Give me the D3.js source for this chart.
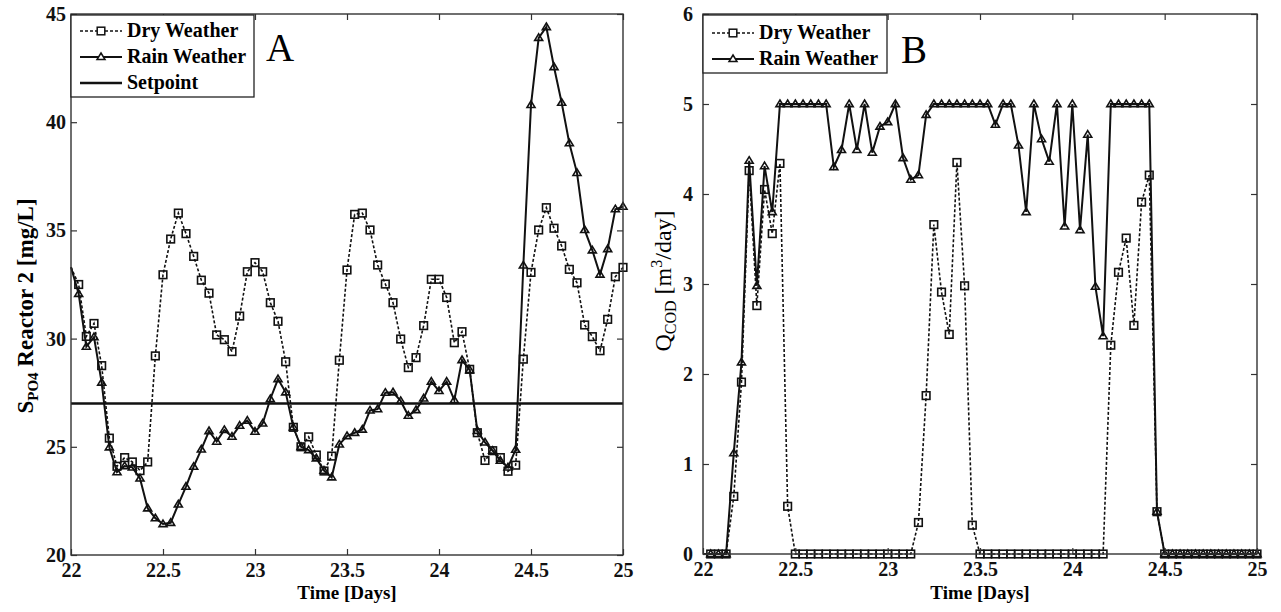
<html>
  <head>
    <meta charset="utf-8" />
    <script src="https://d3js.org/d3.v7.min.js"></script>
    <style>
      body { margin: 0; background: #fff; }
      text { font-family: "Liberation Serif", "Times New Roman", serif; }
    </style>
  </head>
  <body>
    <div id="figure"></div>
    <script>
      // hourly samples, day 22 -> day 25
      const timeDays = d3.range(73).map(h => 22 + h / 24);
      const xTicks = [22, 22.5, 23, 23.5, 24, 24.5, 25];
      const yTicksA = [20, 25, 30, 35, 40, 45];
      const yTicksB = [0, 1, 2, 3, 4, 5, 6];

      // panel A : S_PO4 in reactor 2 [mg/L]
      const dryPO4 = [33.3, 32.5, 30.1, 30.7, 28.75, 25.4, 24.1, 24.5, 24.3, 23.9, 24.3, 29.2,
        32.95, 34.6, 35.8, 34.85, 33.8, 32.7, 32.1, 30.17, 29.95, 29.4, 31.04, 33.09,
        33.51, 33.09, 31.66, 30.8, 28.93, 25.9, 25.0, 25.46, 24.62, 23.88, 24.57, 29.0,
        33.17, 35.74, 35.8, 35.02, 33.4, 32.52, 31.66, 29.98, 28.66, 29.12, 30.6, 32.74,
        32.74, 31.9, 29.81, 30.32, 28.58, 25.65, 24.37, 24.82, 24.5, 23.87, 24.15, 29.05,
        33.06, 35.02, 36.05, 35.1, 34.28, 33.2, 32.58, 30.63, 30.09, 29.44, 30.89, 32.86, 33.29];
      const rainPO4 = [33.3, 32.07, 29.63, 30.07, 27.97, 24.98, 23.83, 24.11, 24.05, 23.54, 22.16, 21.7,
        21.43, 21.49, 22.34, 23.16, 24.08, 24.88, 25.73, 25.24, 25.78, 25.47, 25.98, 26.21,
        25.7, 26.08, 27.21, 28.13, 27.52, 25.9, 25.0, 24.85, 24.47, 23.9, 23.59, 25.11,
        25.5, 25.65, 25.8, 26.68, 26.74, 27.5, 27.52, 27.12, 26.44, 26.7, 27.24, 28.01,
        27.58, 28.01, 27.16, 29.01, 28.55, 25.74, 25.2, 24.82, 24.36, 24.05, 24.87, 33.38,
        40.8, 43.9, 44.4, 42.55, 40.9, 39.03, 37.66, 35.02, 34.08, 32.96, 34.14, 35.98, 36.1];
      const setpointPO4 = 27;

      // panel B : Q_COD [m3/day]
      const dryQCOD = [0, 0, 0, 0, 0.64, 1.91, 4.26, 2.76, 4.05, 3.56, 4.34, 0.53,
        0, 0, 0, 0, 0, 0, 0, 0, 0, 0, 0, 0,
        0, 0, 0, 0, 0.35, 1.76, 3.66, 2.91, 2.44, 4.35, 2.98, 0.32,
        0, 0, 0, 0, 0, 0, 0, 0, 0, 0, 0, 0,
        0, 0, 0, 0, 0, 2.32, 3.13, 3.51, 2.54, 3.91, 4.21, 0.47,
        0, 0, 0, 0, 0, 0, 0, 0, 0, 0, 0, 0, 0];
      const rainQCOD = [0, 0, 0, 0, 1.12, 2.13, 4.37, 2.98, 4.31, 3.8, 5, 5,
        5, 5, 5, 5, 5, 4.3, 4.49, 5, 4.49, 5, 4.46, 4.75,
        4.8, 5, 4.4, 4.16, 4.21, 4.88, 5, 5, 5, 5, 5, 5,
        5, 5, 4.77, 5, 5, 4.54, 3.8, 5, 4.61, 4.36, 5, 3.64,
        5, 3.6, 4.66, 2.97, 2.42, 5, 5, 5, 5, 5, 5, 0.47,
        0, 0, 0, 0, 0, 0, 0, 0, 0, 0, 0, 0, 0];

      const svg = d3.select("#figure")
        .append("svg")
        .attr("width", 1281)
        .attr("height", 612);

      const tickFmt = d3.format("~g");

      function pairs(values) {
        return values.map((v, i) => ({ t: timeDays[i], v: v }));
      }

      function squareMarks(g, pts, x, y) {
        g.selectAll(null).data(pts.filter(d => d.t > 22)).enter()
          .append("rect")
          .attr("x", d => x(d.t) - 3.8)
          .attr("y", d => y(d.v) - 3.8)
          .attr("width", 7.6)
          .attr("height", 7.6)
          .attr("fill", "none")
          .attr("stroke", "#111")
          .attr("stroke-width", 1.6);
      }

      function triangleMarks(g, pts, x, y) {
        g.selectAll(null).data(pts.filter(d => d.t > 22)).enter()
          .append("path")
          .attr("d", d => {
            let cx = x(d.t), cy = y(d.v);
            return "M" + cx + "," + (cy - 4) + "L" + (cx + 4) + "," + (cy + 2.6) + "L" + (cx - 4) + "," + (cy + 2.6) + "Z";
          })
          .attr("fill", "none")
          .attr("stroke", "#111")
          .attr("stroke-width", 1.6);
      }

      function drawPanel(p) {
        let x = d3.scaleLinear().domain([22, 25]).range([p.left, p.right]);
        let y = d3.scaleLinear().domain(p.yDomain).range([p.bottom, p.top]);
        let g = svg.append("g");

        let line = d3.line().x(d => x(d.t)).y(d => y(d.v));

        // setpoint (panel A only)
        if (p.setpoint !== undefined) {
          g.append("line")
            .attr("x1", p.left).attr("x2", p.right)
            .attr("y1", y(p.setpoint)).attr("y2", y(p.setpoint))
            .attr("stroke", "#111").attr("stroke-width", 2.4);
        }

        let rain = pairs(p.rain), dry = pairs(p.dry);
        g.append("path").attr("d", line(rain))
          .attr("fill", "none").attr("stroke", "#111").attr("stroke-width", 2);
        triangleMarks(g, rain, x, y);
        g.append("path").attr("d", line(dry))
          .attr("fill", "none").attr("stroke", "#111").attr("stroke-width", 1.6)
          .attr("stroke-dasharray", "3,2");
        squareMarks(g, dry, x, y);

        // axes, ticks pointing inward on all four sides
        let fontAxis = g2 => g2.attr("font-family", "Liberation Serif, serif")
          .attr("font-size", 20).attr("font-weight", "bold");
        let ax = [
          g.append("g").attr("transform", "translate(0," + p.bottom + ")")
            .call(d3.axisBottom(x).tickValues(xTicks).tickFormat(tickFmt).tickSizeInner(-6).tickSizeOuter(0).tickPadding(8)),
          g.append("g").attr("transform", "translate(0," + p.top + ")")
            .call(d3.axisTop(x).tickValues(xTicks).tickSizeInner(-6).tickSizeOuter(0).tickFormat("")),
          g.append("g").attr("transform", "translate(" + p.left + ",0)")
            .call(d3.axisLeft(y).tickValues(p.yTicks).tickFormat(tickFmt).tickSizeInner(-6).tickSizeOuter(0).tickPadding(p.padY)),
          g.append("g").attr("transform", "translate(" + p.right + ",0)")
            .call(d3.axisRight(y).tickValues(p.yTicks).tickSizeInner(-6).tickSizeOuter(0).tickFormat(""))
        ];
        ax.forEach(a => {
          fontAxis(a);
          a.select(".domain").remove();
          a.selectAll(".tick line").attr("stroke", "#333").attr("stroke-width", 1.2);
          a.selectAll(".tick text").attr("fill", "#111");
        });
        g.append("rect")
          .attr("x", p.left).attr("y", p.top)
          .attr("width", p.right - p.left).attr("height", p.bottom - p.top)
          .attr("fill", "none").attr("stroke", "#333").attr("stroke-width", 1.4);

        g.append("text")
          .attr("x", (p.left + p.right) / 2).attr("y", 599)
          .attr("text-anchor", "middle")
          .attr("font-size", 19).attr("font-weight", "bold")
          .text("Time [Days]");

        // legend box
        let lg = g.append("g");
        lg.append("rect")
          .attr("x", p.left).attr("y", p.top + 1)
          .attr("width", p.legendW).attr("height", p.legendH)
          .attr("fill", "#fff").attr("stroke", "#222").attr("stroke-width", 1.3);
        p.legend.forEach((item, k) => {
          let ly = p.legendY[k];
          let lx0 = p.left + 9, lx1 = p.left + 51, mx = p.left + 30;
          let ln = lg.append("line")
            .attr("x1", lx0).attr("x2", lx1)
            .attr("y1", ly - 6).attr("y2", ly - 6)
            .attr("stroke", "#111");
          if (item.kind == "dry") {
            ln.attr("stroke-width", 1.6).attr("stroke-dasharray", "3,2");
            lg.append("rect").attr("x", mx - 3.8).attr("y", ly - 9.8)
              .attr("width", 7.6).attr("height", 7.6)
              .attr("fill", "#fff").attr("stroke", "#111").attr("stroke-width", 1.5);
          } else if (item.kind == "rain") {
            ln.attr("stroke-width", 2);
            lg.append("path")
              .attr("d", "M" + mx + "," + (ly - 10) + "L" + (mx + 4) + "," + (ly - 3.4) + "L" + (mx - 4) + "," + (ly - 3.4) + "Z")
              .attr("fill", "#fff").attr("stroke", "#111").attr("stroke-width", 1.5);
          } else {
            ln.attr("stroke-width", 2.4);
          }
          lg.append("text")
            .attr("x", p.left + 56).attr("y", ly)
            .attr("font-size", 20).attr("font-weight", "bold")
            .text(item.name);
        });

        g.append("text")
          .attr("x", p.tagX).attr("y", p.tagY)
          .attr("font-size", 39)
          .text(p.tag);

        return g;
      }

      let gA = drawPanel({
        left: 71, right: 623, top: 14, bottom: 555,
        yDomain: [20, 45], yTicks: yTicksA, padY: 5,
        dry: dryPO4, rain: rainPO4, setpoint: setpointPO4,
        legend: [{ name: "Dry Weather", kind: "dry" }, { name: "Rain Weather", kind: "rain" }, { name: "Setpoint", kind: "set" }],
        legendY: [37, 63, 89], legendW: 183, legendH: 82,
        tag: "A", tagX: 266, tagY: 61
      });

      let gB = drawPanel({
        left: 703, right: 1257, top: 14, bottom: 554,
        yDomain: [0, 6], yTicks: yTicksB, padY: 10,
        dry: dryQCOD, rain: rainQCOD,
        legend: [{ name: "Dry Weather", kind: "dry" }, { name: "Rain Weather", kind: "rain" }],
        legendY: [39, 65], legendW: 184, legendH: 58,
        tag: "B", tagX: 901, tagY: 63
      });

      // y labels with sub/superscripts
      let la = gA.append("text")
        .attr("transform", "translate(33,306) rotate(-90)")
        .attr("text-anchor", "middle")
        .attr("font-size", 23).attr("font-weight", "bold");
      la.append("tspan").text("S");
      la.append("tspan").attr("font-size", 15).attr("dy", 5).text("PO4");
      la.append("tspan").attr("dy", -5).text(" Reactor 2 [mg/L]");

      let lb = gB.append("text")
        .attr("transform", "translate(671,281) rotate(-90)")
        .attr("text-anchor", "middle")
        .attr("font-size", 24);
      lb.append("tspan").text("Q");
      lb.append("tspan").attr("font-size", 16).attr("dy", 5).text("COD");
      lb.append("tspan").attr("dy", -5).text(" [m");
      lb.append("tspan").attr("font-size", 16).attr("dy", -9).text("3");
      lb.append("tspan").attr("dy", 9).text("/day]");
    </script>
  </body>
</html>
